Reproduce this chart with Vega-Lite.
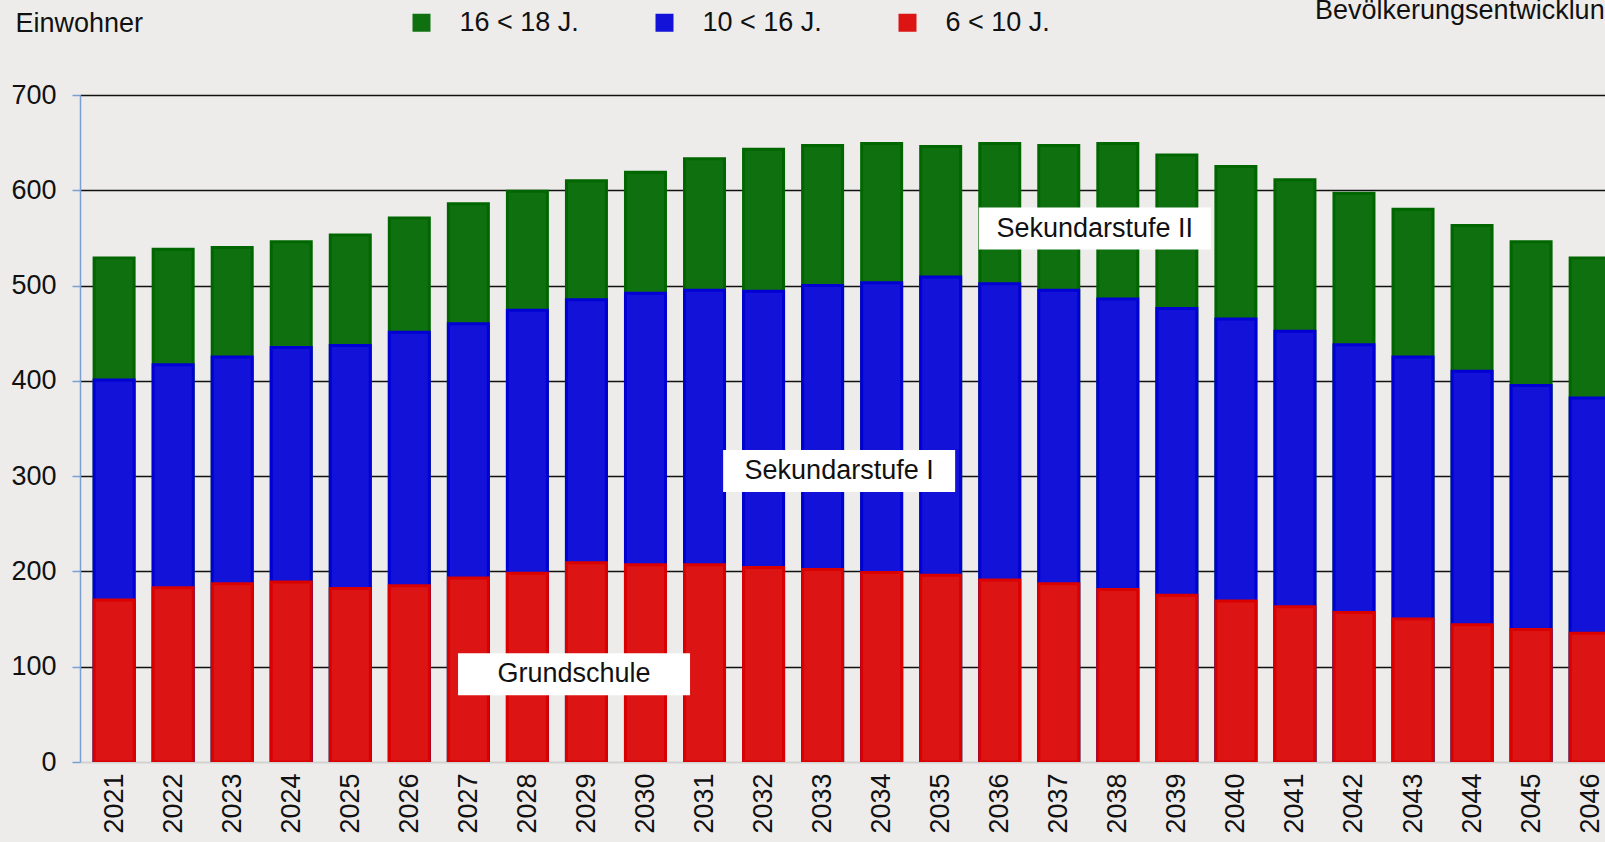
{
  "$schema": "https://vega.github.io/schema/vega-lite/v6.json",
  "autosize": "none",
  "width": 1525,
  "height": 667,
  "padding": {"left": 80, "top": 95, "right": 0, "bottom": 80},
  "background": "#EDECEB",
  "title": {
    "text": "Bevölkerungsentwicklung",
    "anchor": "start",
    "frame": "group",
    "orient": "top",
    "dx": 1235,
    "dy": 37,
    "offset": 0,
    "baseline": "alphabetic",
    "fontSize": 27,
    "fontWeight": "normal",
    "color": "#111111",
    "font": "Liberation Sans"
  },
  "config": {
    "font": "Liberation Sans",
    "view": {"stroke": null},
    "legend": {
      "orient": "none",
      "legendX": 328,
      "legendY": -86,
      "direction": "horizontal",
      "gridAlign": "all",
      "columnPadding": 72,
      "padding": 0,
      "symbolType": "square",
      "symbolSize": 324,
      "symbolStrokeWidth": 0,
      "symbolOpacity": 1,
      "labelFontSize": 27,
      "labelColor": "#111111",
      "labelOffset": 24.5,
      "labelLimit": 300,
      "title": null
    }
  },
  "datasets": {
    "bars": [
      {"year": 2021, "bis_10": 170, "bis_16": 401, "bis_18": 529},
      {"year": 2022, "bis_10": 183, "bis_16": 417, "bis_18": 538},
      {"year": 2023, "bis_10": 187, "bis_16": 425, "bis_18": 540},
      {"year": 2024, "bis_10": 189, "bis_16": 435, "bis_18": 546},
      {"year": 2025, "bis_10": 182, "bis_16": 437, "bis_18": 553},
      {"year": 2026, "bis_10": 185, "bis_16": 451, "bis_18": 571},
      {"year": 2027, "bis_10": 193, "bis_16": 460, "bis_18": 586},
      {"year": 2028, "bis_10": 198, "bis_16": 474, "bis_18": 599},
      {"year": 2029, "bis_10": 209, "bis_16": 485, "bis_18": 610},
      {"year": 2030, "bis_10": 207, "bis_16": 492, "bis_18": 619},
      {"year": 2031, "bis_10": 207, "bis_16": 495, "bis_18": 633},
      {"year": 2032, "bis_10": 204, "bis_16": 494, "bis_18": 643},
      {"year": 2033, "bis_10": 202, "bis_16": 500, "bis_18": 647},
      {"year": 2034, "bis_10": 199, "bis_16": 503, "bis_18": 649},
      {"year": 2035, "bis_10": 196, "bis_16": 509, "bis_18": 646},
      {"year": 2036, "bis_10": 191, "bis_16": 502, "bis_18": 649},
      {"year": 2037, "bis_10": 187, "bis_16": 495, "bis_18": 647},
      {"year": 2038, "bis_10": 181, "bis_16": 486, "bis_18": 649},
      {"year": 2039, "bis_10": 175, "bis_16": 476, "bis_18": 637},
      {"year": 2040, "bis_10": 169, "bis_16": 465, "bis_18": 625},
      {"year": 2041, "bis_10": 163, "bis_16": 452, "bis_18": 611},
      {"year": 2042, "bis_10": 157, "bis_16": 438, "bis_18": 597},
      {"year": 2043, "bis_10": 150, "bis_16": 425, "bis_18": 580},
      {"year": 2044, "bis_10": 144, "bis_16": 410, "bis_18": 563},
      {"year": 2045, "bis_10": 139, "bis_16": 395, "bis_18": 546},
      {"year": 2046, "bis_10": 135, "bis_16": 382, "bis_18": 529}
    ],
    "labels": [
      {"label": "Sekundarstufe II", "year": 2037.61, "value": 559.8},
      {"label": "Sekundarstufe I", "year": 2033.28, "value": 305.4},
      {"label": "Grundschule", "year": 2028.79, "value": 92}
    ]
  },
  "encoding": {
    "x": {
      "field": "year",
      "type": "quantitative",
      "scale": {"domain": [2020.507, 2046.167], "nice": false, "zero": false},
      "axis": {
        "title": null,
        "values": [2021, 2022, 2023, 2024, 2025, 2026, 2027, 2028, 2029, 2030, 2031, 2032, 2033, 2034, 2035, 2036, 2037, 2038, 2039, 2040, 2041, 2042, 2043, 2044, 2045, 2046],
        "format": "d",
        "labelAngle": 270,
        "labelFontSize": 27,
        "labelColor": "#111111",
        "labelPadding": 11,
        "labelFlush": false,
        "labelOverlap": false,
        "labelBound": false,
        "ticks": false,
        "grid": false,
        "domainColor": "#D2D2D2",
        "domainWidth": 2
      }
    }
  },
  "layer": [
    {
      "data": {"name": "bars"},
      "mark": {"type": "bar", "width": 40, "stroke": "#006600", "strokeWidth": 3, "clip": true},
      "encoding": {
        "y": {
          "field": "bis_18",
          "type": "quantitative",
          "title": "Einwohner",
          "scale": {"domain": [0, 700], "nice": false},
          "axis": {
            "values": [0, 100, 200, 300, 400, 500, 600, 700],
            "grid": true,
            "gridColor": {"condition": {"test": "datum.value === 0", "value": "transparent"}, "value": "#111111"},
            "gridWidth": 1.5,
            "domainColor": "#7A9FD2",
            "domainWidth": 1.5,
            "tickColor": "#7A9FD2",
            "tickSize": 8,
            "tickWidth": 1.5,
            "labelFontSize": 27,
            "labelColor": "#111111",
            "labelPadding": 16,
            "titleAngle": 0,
            "titleAlign": "left",
            "titleBaseline": "alphabetic",
            "titleX": -65,
            "titleY": -64,
            "titleFontSize": 27,
            "titleFontWeight": "normal",
            "titleColor": "#111111"
          }
        },
        "fill": {
          "datum": "16 < 18 J.",
          "scale": {"domain": ["16 < 18 J.", "10 < 16 J.", "6 < 10 J."], "range": ["#0E700E", "#1212D8", "#DC1414"]}
        }
      }
    },
    {
      "data": {"name": "bars"},
      "mark": {"type": "bar", "width": 40, "stroke": "#0000D4", "strokeWidth": 3, "clip": true},
      "encoding": {
        "y": {"field": "bis_16", "type": "quantitative", "title": "Einwohner", "scale": {"domain": [0, 700], "nice": false}},
        "fill": {"datum": "10 < 16 J."}
      }
    },
    {
      "data": {"name": "bars"},
      "mark": {"type": "bar", "width": 40, "stroke": "#DA0000", "strokeWidth": 3, "clip": true},
      "encoding": {
        "y": {"field": "bis_10", "type": "quantitative", "title": "Einwohner", "scale": {"domain": [0, 700], "nice": false}},
        "fill": {"datum": "6 < 10 J."}
      }
    },
    {
      "data": {"name": "labels"},
      "mark": {"type": "point", "shape": "M-1,-0.181L1,-0.181L1,0.181L-1,0.181Z", "size": 53824, "filled": true, "color": "#FFFFFF", "opacity": 1, "strokeWidth": 0},
      "encoding": {
        "y": {"field": "value", "type": "quantitative", "title": "Einwohner", "scale": {"domain": [0, 700], "nice": false}}
      }
    },
    {
      "data": {"name": "labels"},
      "mark": {"type": "text", "fontSize": 27, "color": "#111111", "align": "center", "baseline": "middle"},
      "encoding": {
        "y": {"field": "value", "type": "quantitative", "title": "Einwohner", "scale": {"domain": [0, 700], "nice": false}},
        "text": {"field": "label"}
      }
    }
  ]
}
